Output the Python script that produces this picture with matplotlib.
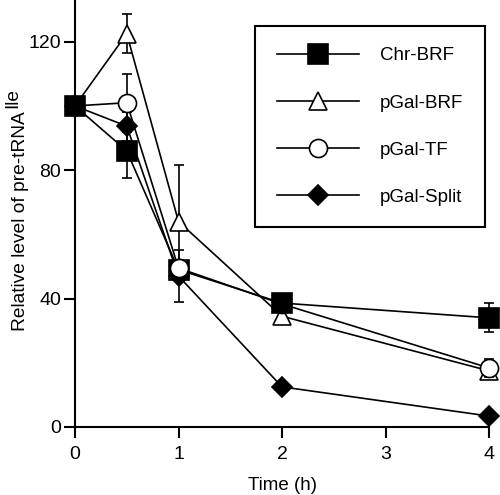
import matplotlib.pyplot as plt
from matplotlib.lines import Line2D

plt.rcParams['font.family'] = ['Liberation Sans', 'DejaVu Sans']

time_h = [0, 0.5, 1, 2, 4]

chr_brf = [100, 86, 49, 38.6, 34]
chr_brf_err = [0, 8.5, 0, 0, 4.5]

gal_brf = [100, 122.5, 64, 34.5, 17.5]
gal_brf_err = [0, 6, 17.5, 2.5, 0]

gal_tf = [100, 101, 49.5, 38.3, 18.4]
gal_tf_err = [0, 9, 0, 0, 2.8]

gal_split = [100, 93.7, 47, 12.5, 3.4]
gal_split_err = [0, 4.5, 8, 0, 0]

labels = ['Chr-BRF', 'pGal-BRF', 'pGal-TF', 'pGal-Split']

fig = plt.figure(figsize=(5.0, 4.95), dpi=100)
ax = fig.add_axes([0.15, 0.1374, 0.828, 0.8626])

styles = [
    dict(marker='s', ms=15, mfc='black', mec='black'),
    dict(marker='^', ms=13, mfc='white', mec='black'),
    dict(marker='o', ms=13, mfc='white', mec='black'),
    dict(marker='D', ms=10, mfc='black', mec='black'),
]
series = [(chr_brf, chr_brf_err), (gal_brf, gal_brf_err),
          (gal_tf, gal_tf_err), (gal_split, gal_split_err)]

for (vals, errs), st, z in zip(series, styles, [5, 3, 4, 2]):
    ax.errorbar(time_h, vals, yerr=errs, color='black', lw=1.2,
                elinewidth=1.2, capsize=3.5, capthick=1.2, mew=1.2,
                zorder=z, clip_on=False, **st)

# open circle sits on top of the square at 1 h
ax.plot(time_h[2], gal_tf[2], color='black', lw=0, mew=1.2, zorder=6,
        clip_on=False, **styles[2])

ax.set_xlim(0, 4)
ax.set_ylim(0, 133)
ax.set_xticks([0, 1, 2, 3, 4])
ax.set_yticks([0, 40, 80, 120])
ax.spines['top'].set_visible(False)
ax.spines['right'].set_visible(False)
for s in ['left', 'bottom']:
    ax.spines[s].set_linewidth(1.5)
ax.tick_params(direction='out', length=8, width=1.5, labelsize=14)
ax.tick_params(axis='x', pad=6)
ax.tick_params(axis='y', pad=2)
ax.set_xlabel('Time (h)', fontsize=13.5, labelpad=10)

# y label with full-size raised superscript
main = fig.text(25 / 500, 1 - 331 / 495, 'Relative level of pre-tRNA',
                rotation=90, rotation_mode='anchor', ha='left',
                va='baseline', fontsize=13.8)
fig.canvas.draw()
bb = main.get_window_extent()
fig.text(17 / 500, (bb.y1 + 3) / fig.bbox.height, 'Ile', rotation=90,
         rotation_mode='anchor', ha='left', va='baseline', fontsize=13.8)

handles = [Line2D([], [], color='black', lw=1.2, mew=1.2, **st)
           for st in styles]
leg = ax.legend(handles, labels, loc='upper left',
                bbox_to_anchor=(0.51, 0.948),
                bbox_transform=fig.transFigure, fontsize=13.5,
                handlelength=4.4, handletextpad=1.1, labelspacing=1.6,
                borderpad=1.15, borderaxespad=0, fancybox=False,
                edgecolor='black', framealpha=1)
leg.get_frame().set_linewidth(1.5)

fig.savefig('out.png', dpi=100)
